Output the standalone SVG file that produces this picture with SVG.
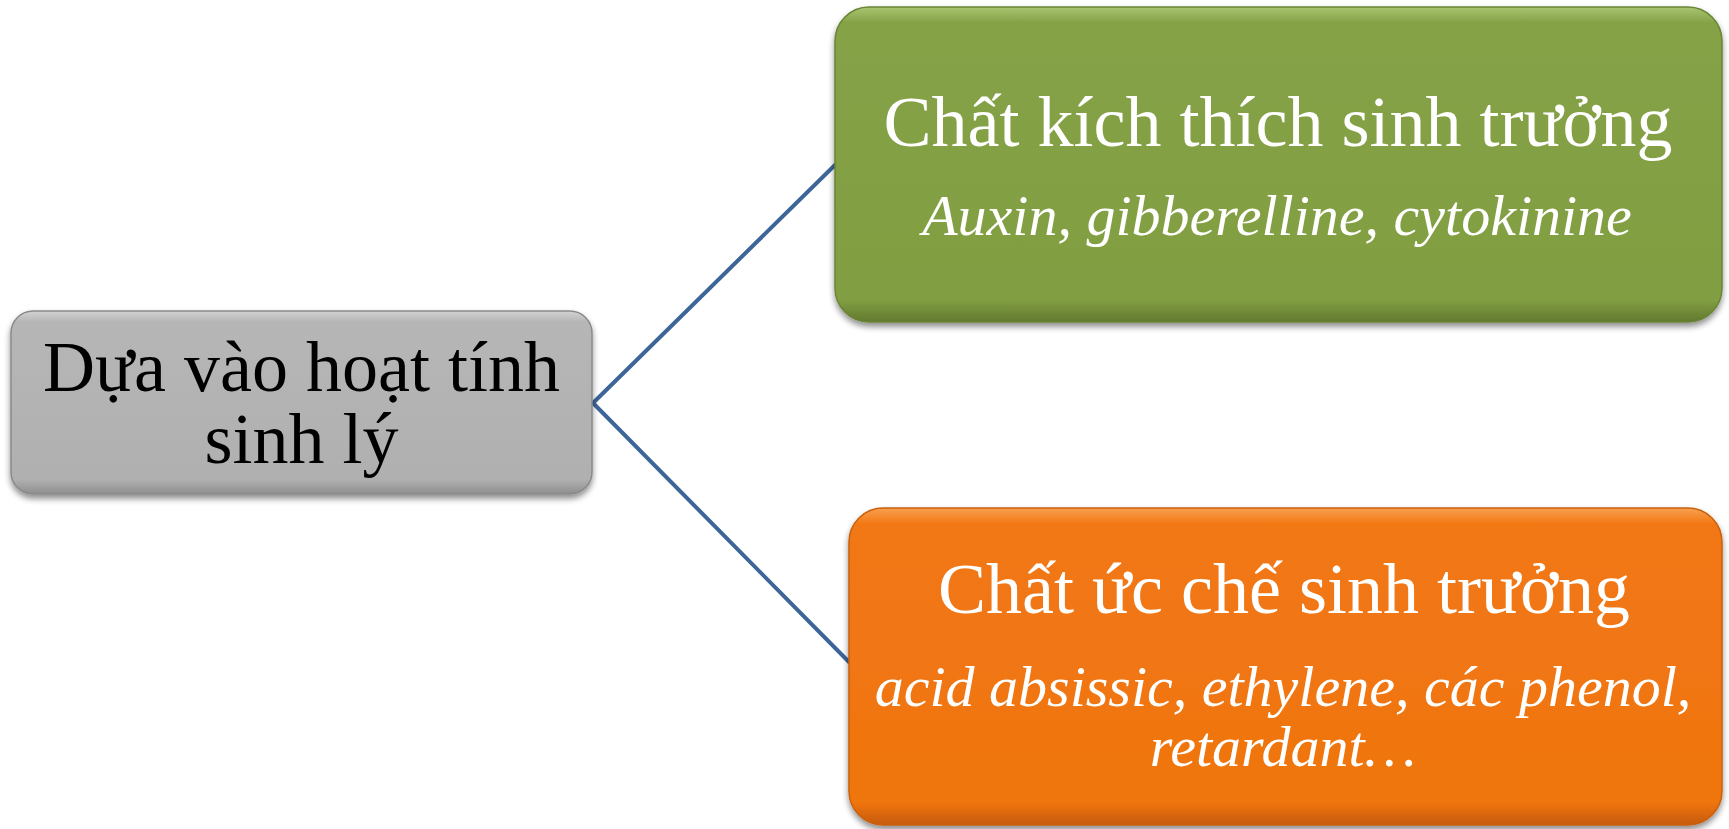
<svg xmlns="http://www.w3.org/2000/svg" width="1729" height="829" viewBox="0 0 1729 829">
  <style>
    .title { font-family: "Liberation Serif", "Times New Roman", serif; font-size: 72px; text-anchor: middle; }
    .sub { font-family: "Liberation Serif", "Times New Roman", serif; font-size: 58px; font-style: italic; text-anchor: middle; fill: #ffffff; }
    .light { fill: #ffffff; }
    .dark { fill: #000000; }
    .link { stroke: #3d6598; stroke-width: 4; fill: none; stroke-linecap: round; stroke-linejoin: round; }
  </style>
  <defs>
    <filter id="shadow" x="-5%" y="-5%" width="110%" height="120%">
      <feGaussianBlur in="SourceAlpha" stdDeviation="3"/>
      <feOffset dx="0" dy="4" result="b"/>
      <feComponentTransfer><feFuncA type="linear" slope="0.45"/></feComponentTransfer>
      <feMerge><feMergeNode/><feMergeNode in="SourceGraphic"/></feMerge>
    </filter>
    <linearGradient id="gGray" x1="0" y1="0" x2="0" y2="1">
      <stop offset="0" stop-color="#d2d2d2"/>
      <stop offset="0.06" stop-color="#b6b6b6"/>
      <stop offset="0.92" stop-color="#b0b0b0"/>
      <stop offset="1" stop-color="#8e8e8e"/>
    </linearGradient>
    <linearGradient id="gGreen" x1="0" y1="0" x2="0" y2="1">
      <stop offset="0" stop-color="#a8c470"/>
      <stop offset="0.05" stop-color="#86a247"/>
      <stop offset="0.93" stop-color="#819e42"/>
      <stop offset="1" stop-color="#62792f"/>
    </linearGradient>
    <linearGradient id="gOrange" x1="0" y1="0" x2="0" y2="1">
      <stop offset="0" stop-color="#f8a050"/>
      <stop offset="0.05" stop-color="#f27814"/>
      <stop offset="0.93" stop-color="#ef7410"/>
      <stop offset="1" stop-color="#c65a08"/>
    </linearGradient>
  </defs>

  <!-- connectors from the root node to both branches -->
  <g id="connectors">
    <path class="link" d="M593 403 L835 165"/>
    <path class="link" d="M593 403 L849 662"/>
  </g>

  <!-- root node -->
  <g id="node-root">
    <rect x="11" y="311" width="581" height="183" rx="22" fill="url(#gGray)" stroke="#8a8a8a" stroke-width="1.5" filter="url(#shadow)"/>
    <text class="title dark" x="301.5" y="391">Dựa vào hoạt tính</text>
    <text class="title dark" x="301.5" y="463">sinh lý</text>
  </g>

  <!-- growth stimulators -->
  <g id="node-stimulators">
    <rect x="835" y="7" width="887" height="315" rx="34" fill="url(#gGreen)" stroke="#6a8435" stroke-width="1.5" filter="url(#shadow)"/>
    <text class="title light" x="1278" y="146">Chất kích thích sinh trưởng</text>
    <text class="sub" x="1277" y="235">Auxin, gibberelline, cytokinine</text>
  </g>

  <!-- growth inhibitors -->
  <g id="node-inhibitors">
    <rect x="849" y="508" width="873" height="317" rx="34" fill="url(#gOrange)" stroke="#c8600c" stroke-width="1.5" filter="url(#shadow)"/>
    <text class="title light" x="1284" y="613">Chất ức chế sinh trưởng</text>
    <text class="sub" x="1283" y="706">acid absissic, ethylene, các phenol,</text>
    <text class="sub" x="1283" y="766">retardant…</text>
  </g>
</svg>
